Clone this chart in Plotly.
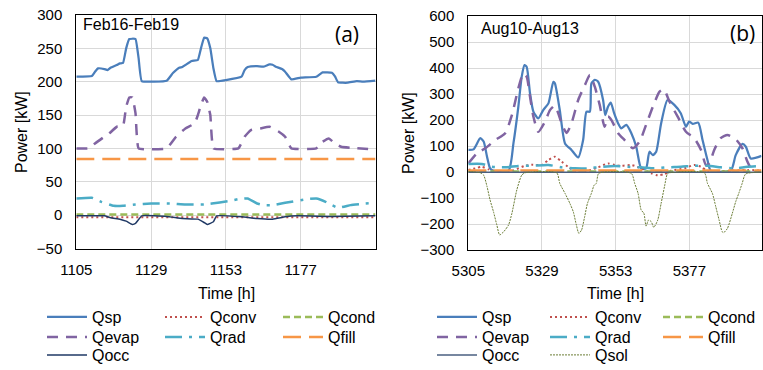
import plotly.graph_objects as go

W, H = 763, 370

# ---------------- Data: panel (a) Feb16-Feb19 ----------------
t_sp_a = [1105, 1110, 1111, 1112, 1114, 1115, 1116, 1118, 1119, 1120, 1121, 1122, 1124, 1125, 1126,
          1134, 1136, 1138, 1139, 1140, 1142, 1144, 1145, 1146, 1147, 1148, 1149, 1150, 1153, 1158,
          1159, 1160, 1161, 1163, 1165, 1167, 1168, 1169, 1171, 1172, 1174, 1177, 1182, 1184, 1187,
          1188, 1189, 1192, 1195, 1197, 1201]
qsp_a = [207.5, 208.5, 215, 220, 219, 217.5, 221, 225, 227.5, 228, 250, 264, 264, 235, 201,
         201.5, 213, 221, 222, 225, 231, 232.5, 250, 266, 265, 250, 220, 201, 202.5, 207.5,
         217.5, 222, 223, 223.5, 222.5, 226, 225.5, 222.5, 219, 215, 203.5, 206, 207.5, 214, 213.5,
         208, 199, 198.5, 201, 200, 201.5]

t_evap_a = [1105, 1109, 1111, 1114, 1115, 1118, 1120, 1121, 1122, 1123, 1124, 1125, 1134, 1137,
            1140, 1143, 1144, 1145, 1146, 1147, 1148, 1149, 1157, 1159, 1161, 1164, 1167, 1170,
            1172, 1174, 1182, 1184, 1186, 1188, 1190, 1193, 1201]
qevap_a = [100, 100, 107.5, 117.5, 120, 132.5, 133.5, 162.5, 176.5, 176.5, 152.5, 100, 100, 117.5,
           130, 137.5, 150, 165, 176.5, 170, 150, 100, 100, 117.5, 127.5, 130, 132.5, 125,
           117.5, 100, 100, 110, 115, 107.5, 102.5, 101, 98.5]

t_rad_a = [1105, 1110, 1113, 1117, 1120, 1124, 1129, 1135, 1140, 1146, 1151, 1154, 1157, 1160,
           1163, 1165, 1168, 1172, 1179, 1182, 1185, 1187, 1189, 1193, 1197, 1201]
qrad_a = [25, 26, 20, 14, 14, 16, 17.5, 17.5, 16, 16, 19, 21, 24, 25,
          17.5, 15, 15, 18.5, 24, 25, 20, 15, 11, 15, 17, 18.5]

t_occ_a = [1105, 1114, 1116, 1119, 1121, 1123, 1124, 1126, 1134, 1139, 1144, 1146, 1147, 1149,
           1150, 1158, 1163, 1168, 1172, 1176, 1187, 1201]
qocc_a = [-1, -1, -4, -6, -9, -14, -12.5, -1, -2, -5, -6, -11, -14, -10,
          -1, -2.5, -5, -6, -2.5, -1, -2, -1]

t_flat_a = [1105, 1201]
qconv_a = [-3, -3]
qcond_a = [1, 1]
qfill_a = [84, 84]

# ---------------- Data: panel (b) Aug10-Aug13 ----------------
t_sp_b = [5305, 5306.7, 5308.9, 5310, 5311.1, 5312.1, 5313.2, 5318.1, 5319.7, 5321.3, 5322.4, 5323.3,
          5324, 5325.1, 5326.2, 5327.8, 5329.4, 5331.1, 5332.7, 5333.2, 5334.8, 5336.5, 5338.6,
          5340.8, 5342.4, 5343.5, 5344.6, 5345.1, 5346.2, 5347.3, 5348.9, 5349.6, 5350.5, 5351.4,
          5352.5, 5353.8, 5354.8, 5356.5, 5358.1, 5359.7, 5361.3, 5362.9, 5364, 5365.1, 5366.2,
          5367.8, 5369.9, 5372.1, 5374.2, 5375.9, 5376.9, 5378.1, 5379.9, 5381.3, 5382.9, 5384,
          5390.5, 5392.1, 5394.3, 5395.4, 5397, 5400.5]
qsp_b = [85, 87, 130, 117, 59, 14, 5, 5, 110, 251, 367, 411,
         405, 303, 232, 206, 238, 264, 347, 341, 238, 110, 85,
         56, 123, 232, 232, 341, 354, 347, 277, 219, 251, 267,
         226, 187, 168, 181, 149, 97, 14, 14, 78, 65, 78,
         187, 277, 258, 226, 174, 194, 185, 190, 123, 46, 5,
         5, 65, 108, 97, 52, 62]

t_evap_b = [5305, 5307.8, 5310.5, 5313.8, 5317, 5319.2, 5321.3, 5322.9, 5324, 5325.1, 5326.2, 5327.8,
            5330, 5331.6, 5333.2, 5334.3, 5335.4, 5337, 5338.6, 5340.8, 5343, 5344.6, 5346.2,
            5347.8, 5349.4, 5350.5, 5351.6, 5353.8, 5355.9, 5358.6, 5360.8, 5362.9, 5365.1,
            5367.3, 5368.7, 5370.5, 5373.2, 5375.9, 5378.6, 5380.8, 5382.4, 5383.5, 5385.1,
            5387.2, 5389.4, 5392.1, 5394.3, 5395.9, 5397]
qevap_b = [33, 72, 91, 123, 149, 219, 322, 379, 367, 290, 213, 155,
           194, 238, 255, 226, 187, 150, 187, 277, 335, 373, 328,
           258, 174, 213, 200, 149, 123, 91, 117, 181, 251,
           309, 318, 271, 213, 155, 130, 85, 27, 33, 85,
           130, 142, 126, 91, 40, 14]

t_conv_b = [5305, 5307.3, 5309.4, 5311.6, 5313.8, 5319.2, 5323.5, 5325.6, 5328.9, 5331.1, 5333.2,
            5335.4, 5337.5, 5339.7, 5344, 5347.3, 5350.5, 5352.7, 5354.8, 5358.1, 5361.3, 5364.6,
            5366.7, 5368.9, 5371, 5375.4, 5378.6, 5380.8, 5382.9, 5389.4, 5395.9, 5400.5]
qconv_b = [8, 14, 20, 10, 4, 5, 24, 28, 27, 46, 59,
           40, 20, 5, 5, 18, 33, 27, 24, 27, 14, -5,
           -13, -8, 5, 14, 27, 20, 5, 4, 8, 5]

t_rad_b = [5305, 5309.4, 5312.7, 5317, 5321.3, 5325.6, 5331.1, 5335.4, 5339.7, 5344, 5348.4, 5352.7,
           5357, 5361.3, 5365.6, 5369.9, 5374.3, 5378.6, 5382.9, 5387.3, 5391.6, 5395.9, 5400.5]
qrad_b = [31, 31, 20, 18, 23, 24, 27, 18, 14, 14, 20, 23,
          20, 18, 14, 18, 20, 24, 24, 18, 14, 20, 23]

t_sol_b = [5305, 5308.9, 5310, 5311.1, 5312.1, 5313.2, 5314.3, 5315.2, 5316.5, 5318.1, 5319.2, 5320.8,
           5322.4, 5323.5, 5333.8, 5334.8, 5336.5, 5338.1, 5339.2, 5340.2, 5341, 5341.9, 5342.9,
           5343.8, 5345.1, 5346, 5346.7, 5347.5, 5358.1, 5359.2, 5360.3, 5361.3, 5362.2, 5362.9,
           5363.7, 5364.6, 5365.4, 5366.7, 5367.8, 5368.9, 5369.8, 5370.5, 5381.9, 5382.9,
           5384.5, 5385.6, 5386.7, 5387.7, 5388.2, 5389.4, 5391, 5392.1, 5393.1, 5394.2, 5395.3,
           5400.5]
qsol_b = [2, -3, -12, -56, -108, -153, -204, -242, -230, -204, -159, -69,
          -12, -3, -3, -44, -82, -121, -153, -204, -236, -223, -172,
          -121, -82, -50, -44, -5, -5, -44, -82, -146, -159, -208,
          -185, -191, -213, -185, -121, -56, -8, -3, -3, -44,
          -82, -133, -185, -230, -233, -217, -159, -114, -82, -44, -8,
          0]

t_flat_b = [5305, 5400.5]
qcond_b = [2, 2]
qfill_b = [6, 6]
qocc_b = [-1, -1]

# ---------------- Styles ----------------
C_SP = "#4A7EBB"
C_CONV = "#C0504D"
C_COND = "#9BBB59"
C_EVAP = "#8064A2"
C_RAD = "#4BACC6"
C_FILL = "#F79646"
C_OCC_A = "#1F3864"
C_OCC_B = "#4A5F80"
C_SOL = "#6B7D36"

styles = {
    "Qsp": dict(color=C_SP, width=2.25, dash="solid"),
    "Qconv": dict(color=C_CONV, width=2, dash="2px,3px"),
    "Qcond": dict(color=C_COND, width=2.5, dash="7px,4px"),
    "Qevap": dict(color=C_EVAP, width=2.5, dash="11px,8px"),
    "Qrad": dict(color=C_RAD, width=2.5, dash="17px,7px,3px,7px"),
    "Qfill": dict(color=C_FILL, width=2.5, dash="18px,8px"),
    "Qocc": dict(color=C_OCC_A, width=1.5, dash="solid"),
    "Qsol": dict(color=C_SOL, width=1, dash="2px,1px"),
}

fig = go.Figure()


def add(x, y, name, xa, ya, legend, color=None, smooth=0.6):
    st = dict(styles[name])
    if color:
        st["color"] = color
    fig.add_trace(go.Scatter(x=x, y=y, name=name, mode="lines", xaxis=xa, yaxis=ya,
                             line=dict(shape="spline", smoothing=smooth, **st),
                             legend=legend, showlegend=True))


# panel (a)
add(t_sp_a, qsp_a, "Qsp", "x", "y", "legend", smooth=0.3)
add(t_flat_a, qconv_a, "Qconv", "x", "y", "legend", smooth=0.3)
add(t_flat_a, qcond_a, "Qcond", "x", "y", "legend", smooth=0.3)
add(t_evap_a, qevap_a, "Qevap", "x", "y", "legend2", smooth=0.3)
add(t_rad_a, qrad_a, "Qrad", "x", "y", "legend2", smooth=0.3)
add(t_flat_a, qfill_a, "Qfill", "x", "y", "legend2", smooth=0.3)
add(t_occ_a, qocc_a, "Qocc", "x", "y", "legend3", smooth=0.3)

# panel (b)
add(t_sp_b, qsp_b, "Qsp", "x2", "y2", "legend4")
add(t_conv_b, qconv_b, "Qconv", "x2", "y2", "legend4")
add(t_flat_b, qcond_b, "Qcond", "x2", "y2", "legend4")
add(t_evap_b, qevap_b, "Qevap", "x2", "y2", "legend5")
add(t_rad_b, qrad_b, "Qrad", "x2", "y2", "legend5")
add(t_flat_b, qfill_b, "Qfill", "x2", "y2", "legend5")
add(t_flat_b, qocc_b, "Qocc", "x2", "y2", "legend6", color=C_OCC_B)
add(t_sol_b, qsol_b, "Qsol", "x2", "y2", "legend6")

FONT = "Liberation Sans, Arial, sans-serif"
ax_common = dict(showline=True, linecolor="black", linewidth=1, mirror=True,
                 showgrid=True, gridcolor="#D9D9D9", gridwidth=1, zeroline=False,
                 ticks="", tickfont=dict(family=FONT, size=15, color="black"))

xa_ticks = [1105, 1129, 1153, 1177]
xb_ticks = [5305, 5329, 5353, 5377]


def px(x):
    return x / W


def py(y):
    return 1 - y / H


legend_common = dict(orientation="h", xanchor="left", yanchor="middle",
                     font=dict(family=FONT, size=16, color="black"),
                     bgcolor="rgba(0,0,0,0)", itemwidth=40, tracegroupgap=0,
                     entrywidthmode="pixels", itemclick=False, itemdoubleclick=False)

rows_y = [317, 337, 355]


def note(text, x, y, size=16, angle=0, xanchor="center", family=FONT):
    return dict(text=text, x=px(x), y=py(y), xref="paper", yref="paper", textangle=angle,
                xanchor=xanchor, yanchor="middle", showarrow=False,
                font=dict(family=family, size=size, color="black"))


fig.update_layout(
    width=W, height=H, margin=dict(l=0, r=0, t=0, b=0, autoexpand=False),
    paper_bgcolor="white", plot_bgcolor="white",
    font=dict(family=FONT, size=15, color="black"),
    xaxis=dict(domain=[px(76.3), px(375.5)], range=[1105, 1201], tickvals=xa_ticks,
               anchor="y", ticklabelstandoff=7, **ax_common),
    yaxis=dict(domain=[py(248.5), py(15)], range=[-50, 300], dtick=50, anchor="x",
               ticklabelstandoff=10, **ax_common),
    xaxis2=dict(domain=[px(468.3), px(761.5)], range=[5305, 5400.5], tickvals=xb_ticks,
                anchor="y2", ticklabelstandoff=7, **ax_common),
    yaxis2=dict(domain=[py(250), py(16)], range=[-300, 600], dtick=100, anchor="x2",
                ticklabelstandoff=10, **ax_common),
    legend=dict(x=px(42), y=py(rows_y[0]), entrywidth=63, **legend_common),
    legend2=dict(x=px(42), y=py(rows_y[1]), entrywidth=63, **legend_common),
    legend3=dict(x=px(42), y=py(rows_y[2]), entrywidth=63, **legend_common),
    legend4=dict(x=px(432), y=py(rows_y[0]), entrywidth=58, **legend_common),
    legend5=dict(x=px(432), y=py(rows_y[1]), entrywidth=58, **legend_common),
    legend6=dict(x=px(432), y=py(rows_y[2]), entrywidth=58, **legend_common),
    annotations=[
        note("Power [kW]", 21, 132, angle=-90),
        note("Power [kW]", 408, 133, angle=-90),
        note("Time [h]", 226, 293),
        note("Time [h]", 615, 293),
        note("Feb16-Feb19", 81, 25, xanchor="left"),
        note("Aug10-Aug13", 479, 28, xanchor="left"),
        note("(a)", 347, 34, size=21, family="Open Sans, sans-serif"),
        note("(b)", 742, 33, size=21, family="Open Sans, sans-serif"),
    ],
)

fig.write_html("out.html", config={"displayModeBar": False},
               post_script="document.body.style.margin='0px';")
